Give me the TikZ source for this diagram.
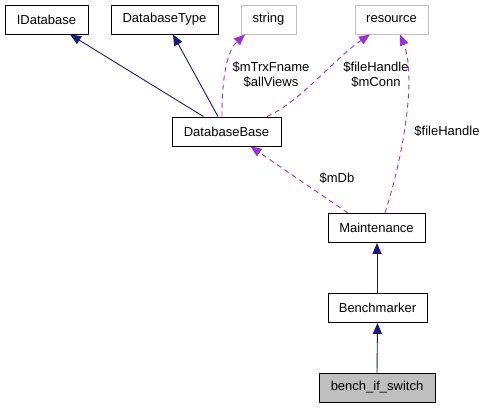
\documentclass[tikz,border=0pt]{standalone}
\usepackage{fontspec}
\setmainfont{Liberation Sans}
\usetikzlibrary{positioning,arrows.meta,calc}
\definecolor{inhcol}{HTML}{191970}
\definecolor{collcol}{HTML}{9A32CD}
\definecolor{extcol}{HTML}{BFBFBF}

\begin{document}
\begin{tikzpicture}[x=1pt,y=-1pt,
      box/.style={draw,line width=0.9pt,minimum height=29pt,inner sep=0pt,font=\fontsize{13}{15}\selectfont},
      extbox/.style={box,draw=extcol},
      curbox/.style={box,fill=extcol},
      inh/.style={-{Triangle[length=11pt,width=9pt]},line width=0.9pt,inhcol},
      coll/.style={-{Triangle[length=11pt,width=9pt]},line width=0.9pt,collcol,dash pattern=on 5pt off 4pt},
      lbl/.style={font=\fontsize{13}{15}\selectfont,align=center,inner sep=0pt}]

    \useasboundingbox (0,0) rectangle (485,408);

    \node[box,minimum width=83pt] (idb) at (46.5,19.5) {IDatabase};
    \node[box,minimum width=107pt] (dbtype) at (164.5,19.5) {DatabaseType};
    \node[extbox,minimum width=55pt] (str) at (268.5,19.5) {string};
    \node[extbox,minimum width=73pt] (res) at (391.5,19.5) {resource};
    \node[box,minimum width=109pt] (dbbase) at (226.5,131.5) {DatabaseBase};
    \node[box,minimum width=97pt] (maint) at (376.5,228) {Maintenance};
    \node[box,minimum width=99pt] (bench) at (377.5,308) {Benchmarker};
    \node[curbox,minimum width=116pt] (bis) at (377,387.5) {bench\_if\_switch};

    \draw[inh] ([xshift=-23pt]dbbase.north) -- ([xshift=23.5pt]idb.south);
    \draw[inh] ([xshift=-8.5pt]dbbase.north) -- ([xshift=8.5pt]dbtype.south);

    \draw[coll] ([xshift=-4.5pt]dbbase.north) .. controls (222,80) and (226,52) .. ([xshift=-23.5pt]str.south);
    \node[lbl] (lstr) at (271,75) {\$mTrxFname\\\$allViews};

    \draw[coll] ([xshift=40.5pt]dbbase.north) .. controls (300,102) and (335,58) .. ([xshift=-21.5pt]res.south);
    \node[lbl] (lres) at (376,75) {\$fileHandle\\\$mConn};

    \draw[coll] ([xshift=8.5pt]maint.north) .. controls (405,150) and (416,75) .. ([xshift=8.5pt]res.south);
    \node[lbl] (lres2) at (447,131) {\$fileHandle};

    \draw[coll] ([xshift=-28.5pt]maint.north) -- ([xshift=24pt]dbbase.south);
    \node[lbl] (ldb) at (337,178) {\$mDb};

    \draw[inh] ([xshift=-0.5pt]bench.north) -- ([xshift=0.5pt]maint.south);
    \draw[inh] (bis.north) -- (bench.south);
  \end{tikzpicture}
\end{document}
